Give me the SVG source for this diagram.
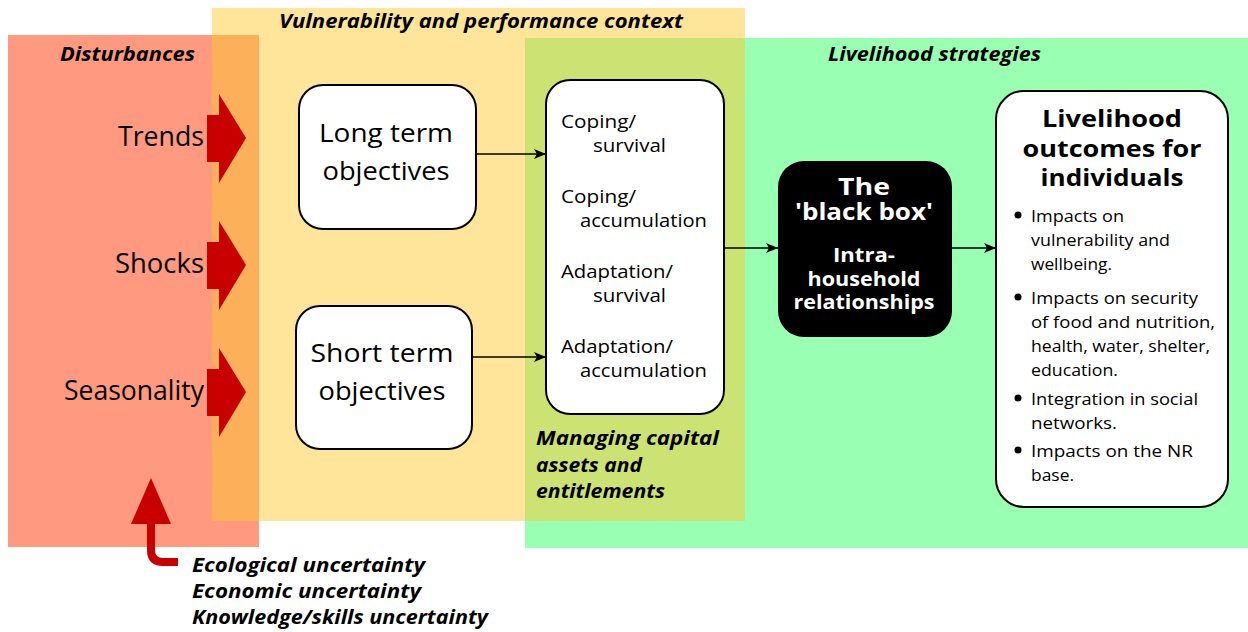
<svg xmlns="http://www.w3.org/2000/svg" width="1248" height="632" viewBox="0 0 1248 632">
  <defs>
    <marker id="arr" viewBox="0 0 12 10" refX="12" refY="5" markerWidth="12" markerHeight="10" markerUnits="userSpaceOnUse" orient="auto">
      <path d="M0,0 L12,5 L0,10 L3,5 Z" fill="#000"/>
    </marker>
    <style>
      text { font-family: "Open Sans", Lato, "DejaVu Sans", sans-serif; fill: #000; }
      .hdr { font-size: 19px; font-weight: bold; font-style: italic; }
      .dist { font-size: 28px; text-anchor: end; }
      .obj { font-size: 26px; text-anchor: middle; }
      .strat { font-size: 19px; }
      .bb1 { font-size: 23px; font-weight: bold; fill: #fff; text-anchor: middle; }
      .bb2 { font-size: 19px; font-weight: bold; fill: #fff; text-anchor: middle; }
      .out1 { font-size: 24px; font-weight: bold; text-anchor: middle; }
      .out2 { font-size: 17px; }
      .box { fill: #fff; stroke: #000; stroke-width: 2; }
      .conn { fill: none; stroke: #000; stroke-width: 1.6; marker-end: url(#arr); }
      .red { fill: #c80000; }
    </style>
  </defs>

  <!-- context areas -->
  <g id="areas">
    <rect x="8" y="35" width="251" height="512" fill="#ff9980"/>
    <rect x="525" y="38" width="723" height="510" fill="#99ffb2"/>
    <rect x="212" y="8" width="533" height="513" fill="#ffe599"/>
    <rect x="212" y="35" width="47" height="486" fill="#fdb05a"/>
    <rect x="525" y="38" width="220" height="483" fill="#cce374"/>
  </g>

  <!-- area titles -->
  <g id="titles">
    <text class="hdr" x="60" y="61" textLength="135" lengthAdjust="spacingAndGlyphs">Disturbances</text>
    <text class="hdr" x="279" y="28" textLength="404" lengthAdjust="spacingAndGlyphs">Vulnerability and performance context</text>
    <text class="hdr" x="828" y="61" textLength="213" lengthAdjust="spacingAndGlyphs">Livelihood strategies</text>
    <text class="hdr" x="536" y="445" textLength="183" lengthAdjust="spacingAndGlyphs">Managing capital</text>
    <text class="hdr" x="536" y="472" textLength="106" lengthAdjust="spacingAndGlyphs">assets and</text>
    <text class="hdr" x="536" y="498" textLength="129" lengthAdjust="spacingAndGlyphs">entitlements</text>
  </g>

  <!-- disturbances -->
  <g id="disturbances">
    <text class="dist" x="204" y="146" textLength="86" lengthAdjust="spacingAndGlyphs">Trends</text>
    <text class="dist" x="204" y="273" textLength="89" lengthAdjust="spacingAndGlyphs">Shocks</text>
    <text class="dist" x="204" y="400" textLength="140" lengthAdjust="spacingAndGlyphs">Seasonality</text>
    <path class="red" d="M207,115 H219 V94 L246,138 L219,183 V162 H207 Z"/>
    <path class="red" d="M207,242 H219 V221 L246,265 L219,310 V289 H207 Z"/>
    <path class="red" d="M207,369 H219 V348 L246,392 L219,437 V416 H207 Z"/>
  </g>

  <!-- uncertainty sources -->
  <g id="uncertainty">
    <path d="M178,562 H163 Q151,562 151,550 V520" fill="none" stroke="#c80000" stroke-width="8"/>
    <path class="red" d="M151,478 L171,524 L131,524 Z"/>
    <text class="hdr" x="192" y="572" textLength="233" lengthAdjust="spacingAndGlyphs">Ecological uncertainty</text>
    <text class="hdr" x="192" y="598" textLength="229" lengthAdjust="spacingAndGlyphs">Economic uncertainty</text>
    <text class="hdr" x="192" y="624" textLength="296" lengthAdjust="spacingAndGlyphs">Knowledge/skills uncertainty</text>
  </g>

  <!-- objectives -->
  <g id="long-term">
    <rect class="box" x="299" y="85" width="177" height="144" rx="24"/>
    <text class="obj" x="386" y="142" textLength="134" lengthAdjust="spacingAndGlyphs">Long term</text>
    <text class="obj" x="386" y="180" textLength="127" lengthAdjust="spacingAndGlyphs">objectives</text>
  </g>
  <g id="short-term">
    <rect class="box" x="296" y="306" width="176" height="143" rx="24"/>
    <text class="obj" x="382" y="362" textLength="143" lengthAdjust="spacingAndGlyphs">Short term</text>
    <text class="obj" x="382" y="400" textLength="127" lengthAdjust="spacingAndGlyphs">objectives</text>
  </g>

  <!-- strategies -->
  <g id="strategies">
    <rect class="box" x="546" y="80" width="178" height="334" rx="24"/>
    <text class="strat" x="561" y="128" textLength="75" lengthAdjust="spacingAndGlyphs">Coping/</text>
    <text class="strat" x="593" y="152" textLength="73" lengthAdjust="spacingAndGlyphs">survival</text>
    <text class="strat" x="561" y="203" textLength="75" lengthAdjust="spacingAndGlyphs">Coping/</text>
    <text class="strat" x="580" y="227" textLength="127" lengthAdjust="spacingAndGlyphs">accumulation</text>
    <text class="strat" x="561" y="278" textLength="112" lengthAdjust="spacingAndGlyphs">Adaptation/</text>
    <text class="strat" x="593" y="302" textLength="73" lengthAdjust="spacingAndGlyphs">survival</text>
    <text class="strat" x="561" y="353" textLength="112" lengthAdjust="spacingAndGlyphs">Adaptation/</text>
    <text class="strat" x="580" y="377" textLength="127" lengthAdjust="spacingAndGlyphs">accumulation</text>
  </g>

  <!-- black box -->
  <g id="black-box">
    <rect x="778" y="161" width="174" height="176" rx="26" fill="#000"/>
    <text class="bb1" x="864" y="195" textLength="52" lengthAdjust="spacingAndGlyphs">The</text>
    <text class="bb1" x="864" y="220" textLength="138" lengthAdjust="spacingAndGlyphs">'black box'</text>
    <text class="bb2" x="864" y="262" textLength="62" lengthAdjust="spacingAndGlyphs">Intra-</text>
    <text class="bb2" x="864" y="286" textLength="113" lengthAdjust="spacingAndGlyphs">household</text>
    <text class="bb2" x="864" y="309" textLength="141" lengthAdjust="spacingAndGlyphs">relationships</text>
  </g>

  <!-- outcomes -->
  <g id="outcomes">
    <rect class="box" x="996" y="91" width="232" height="416" rx="28"/>
    <text class="out1" x="1112" y="127" textLength="140" lengthAdjust="spacingAndGlyphs">Livelihood</text>
    <text class="out1" x="1112" y="157" textLength="179" lengthAdjust="spacingAndGlyphs">outcomes for</text>
    <text class="out1" x="1112" y="186" textLength="143" lengthAdjust="spacingAndGlyphs">individuals</text>
    <circle cx="1018" cy="215" r="3.5"/>
    <circle cx="1018" cy="297" r="3.5"/>
    <circle cx="1018" cy="398" r="3.5"/>
    <circle cx="1018" cy="450" r="3.5"/>
    <text class="out2" x="1031" y="222" textLength="93" lengthAdjust="spacingAndGlyphs">Impacts on</text>
    <text class="out2" x="1031" y="246" textLength="139" lengthAdjust="spacingAndGlyphs">vulnerability and</text>
    <text class="out2" x="1031" y="270" textLength="81" lengthAdjust="spacingAndGlyphs">wellbeing.</text>
    <text class="out2" x="1031" y="304" textLength="167" lengthAdjust="spacingAndGlyphs">Impacts on security</text>
    <text class="out2" x="1031" y="328" textLength="184" lengthAdjust="spacingAndGlyphs">of food and nutrition,</text>
    <text class="out2" x="1031" y="352" textLength="179" lengthAdjust="spacingAndGlyphs">health, water, shelter,</text>
    <text class="out2" x="1031" y="376" textLength="87" lengthAdjust="spacingAndGlyphs">education.</text>
    <text class="out2" x="1031" y="405" textLength="167" lengthAdjust="spacingAndGlyphs">Integration in social</text>
    <text class="out2" x="1031" y="429" textLength="86" lengthAdjust="spacingAndGlyphs">networks.</text>
    <text class="out2" x="1031" y="457" textLength="162" lengthAdjust="spacingAndGlyphs">Impacts on the NR</text>
    <text class="out2" x="1031" y="481" textLength="43" lengthAdjust="spacingAndGlyphs">base.</text>
  </g>

  <!-- connectors -->
  <g id="connectors">
    <line class="conn" x1="476" y1="154" x2="546" y2="154"/>
    <line class="conn" x1="472" y1="357" x2="546" y2="357"/>
    <line class="conn" x1="724" y1="248" x2="778" y2="248"/>
    <line class="conn" x1="952" y1="248" x2="996" y2="248"/>
  </g>
</svg>
